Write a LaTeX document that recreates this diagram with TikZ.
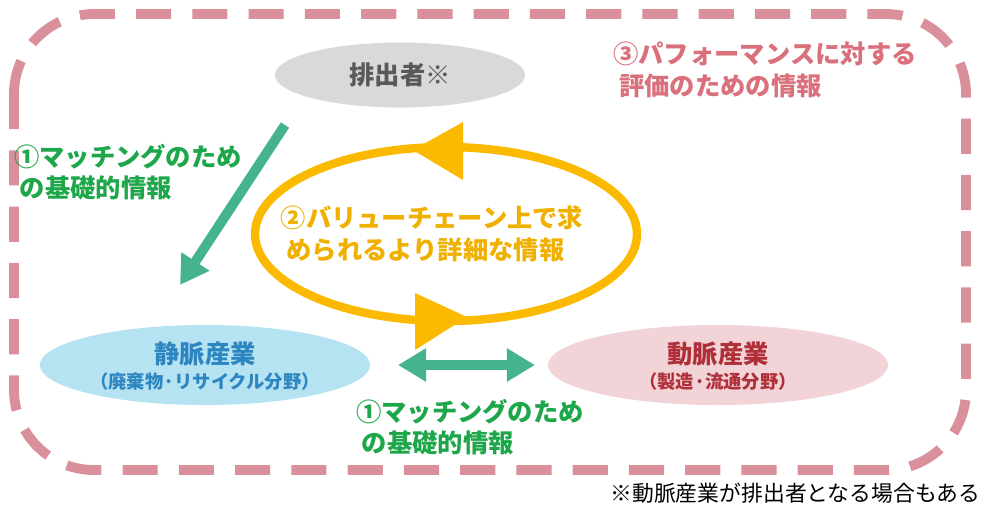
\documentclass[tikz,border=0pt]{standalone}
\usepackage{fontspec}
\setmainfont{Noto Sans CJK JP}
\usetikzlibrary{shapes.geometric,arrows.meta}
\definecolor{frame}{HTML}{D9909A}
\definecolor{greyfill}{HTML}{D9D9D9}
\definecolor{bluefill}{HTML}{B5E3F2}
\definecolor{pinkfill}{HTML}{F2D3D7}
\definecolor{teal}{HTML}{45B38E}
\definecolor{gold}{HTML}{FBBA00}
\definecolor{goldtext}{HTML}{F0B000}
\definecolor{greentext}{HTML}{1EA64A}
\definecolor{bluetext}{HTML}{2E86C1}
\definecolor{redtext}{HTML}{B0303A}
\definecolor{pinktext}{HTML}{D9707C}
\tikzset{
  actor/.style={ellipse, minimum width=#1cm, inner sep=0pt, align=center},
  big/.style={font=\fontsize{7.2pt}{9pt}\selectfont\bfseries},
  small/.style={font=\fontsize{5.2pt}{7pt}\selectfont\bfseries}
}
\begin{document}
\begin{tikzpicture}[x=0.01cm, y=-0.01cm]
  \useasboundingbox (0,0) rectangle (1000,511);
  % outer frame
  \draw[frame, line width=2.8pt, dash pattern=on 10pt off 6pt, rounded corners=0.8cm]
    (14,14) rectangle (966,470);
  % actors
  \node[actor=2.5, fill=greyfill, minimum height=0.65cm, big, text=black!65] (emit) at (400,75) {排出者※};
  \node[actor=3.3, fill=bluefill, minimum height=0.8cm] (vein) at (205,365) {};
  \node[big, text=bluetext] at (205,354) {静脈産業};
  \node[small, text=bluetext] at (205,382) {（廃棄物·リサイクル分野）};
  \node[actor=3.4, fill=pinkfill, minimum height=0.8cm] (artery) at (718,365) {};
  \node[big, text=redtext] at (718,354) {動脈産業};
  \node[small, text=redtext] at (718,382) {（製造·流通分野）};
  % arrows
  \coordinate (a1) at (285,125);
  \coordinate (a2) at (180,285);
  \draw[teal, line width=2.8pt, -{Triangle[length=8pt,width=9pt]}] (a1) -- (a2);
  \coordinate (b1) at (398,365);
  \coordinate (b2) at (535,365);
  \draw[teal, line width=2.8pt, {Triangle[length=8pt,width=9pt]}-{Triangle[length=8pt,width=9pt]}] (b1) -- (b2);
  % value chain loop
  \draw[gold, line width=2.4pt] (446,234) ellipse [x radius=191, y radius=87];
  \fill[gold] (413,150) -- (463,122) -- (463,180) -- cycle;
  \fill[gold] (467,317) -- (415,293) -- (415,350) -- cycle;
  % labels
  \node[big, text=goldtext, align=left] at (432,234) {②バリューチェーン上で求\\ \ められるより詳細な情報};
  \node[big, text=greentext, align=left] at (128,172) {①マッチングのため\\ \ の基礎的情報};
  \node[big, text=greentext, align=left] at (470,427) {①マッチングのため\\ \ の基礎的情報};
  \node[big, text=pinktext, align=left] at (765,70) {③パフォーマンスに対する\\ \ 評価のための情報};
  \node[font=\fontsize{6.2pt}{7pt}\selectfont, anchor=east] at (993,493) {※動脈産業が排出者となる場合もある};
\end{tikzpicture}
\end{document}
